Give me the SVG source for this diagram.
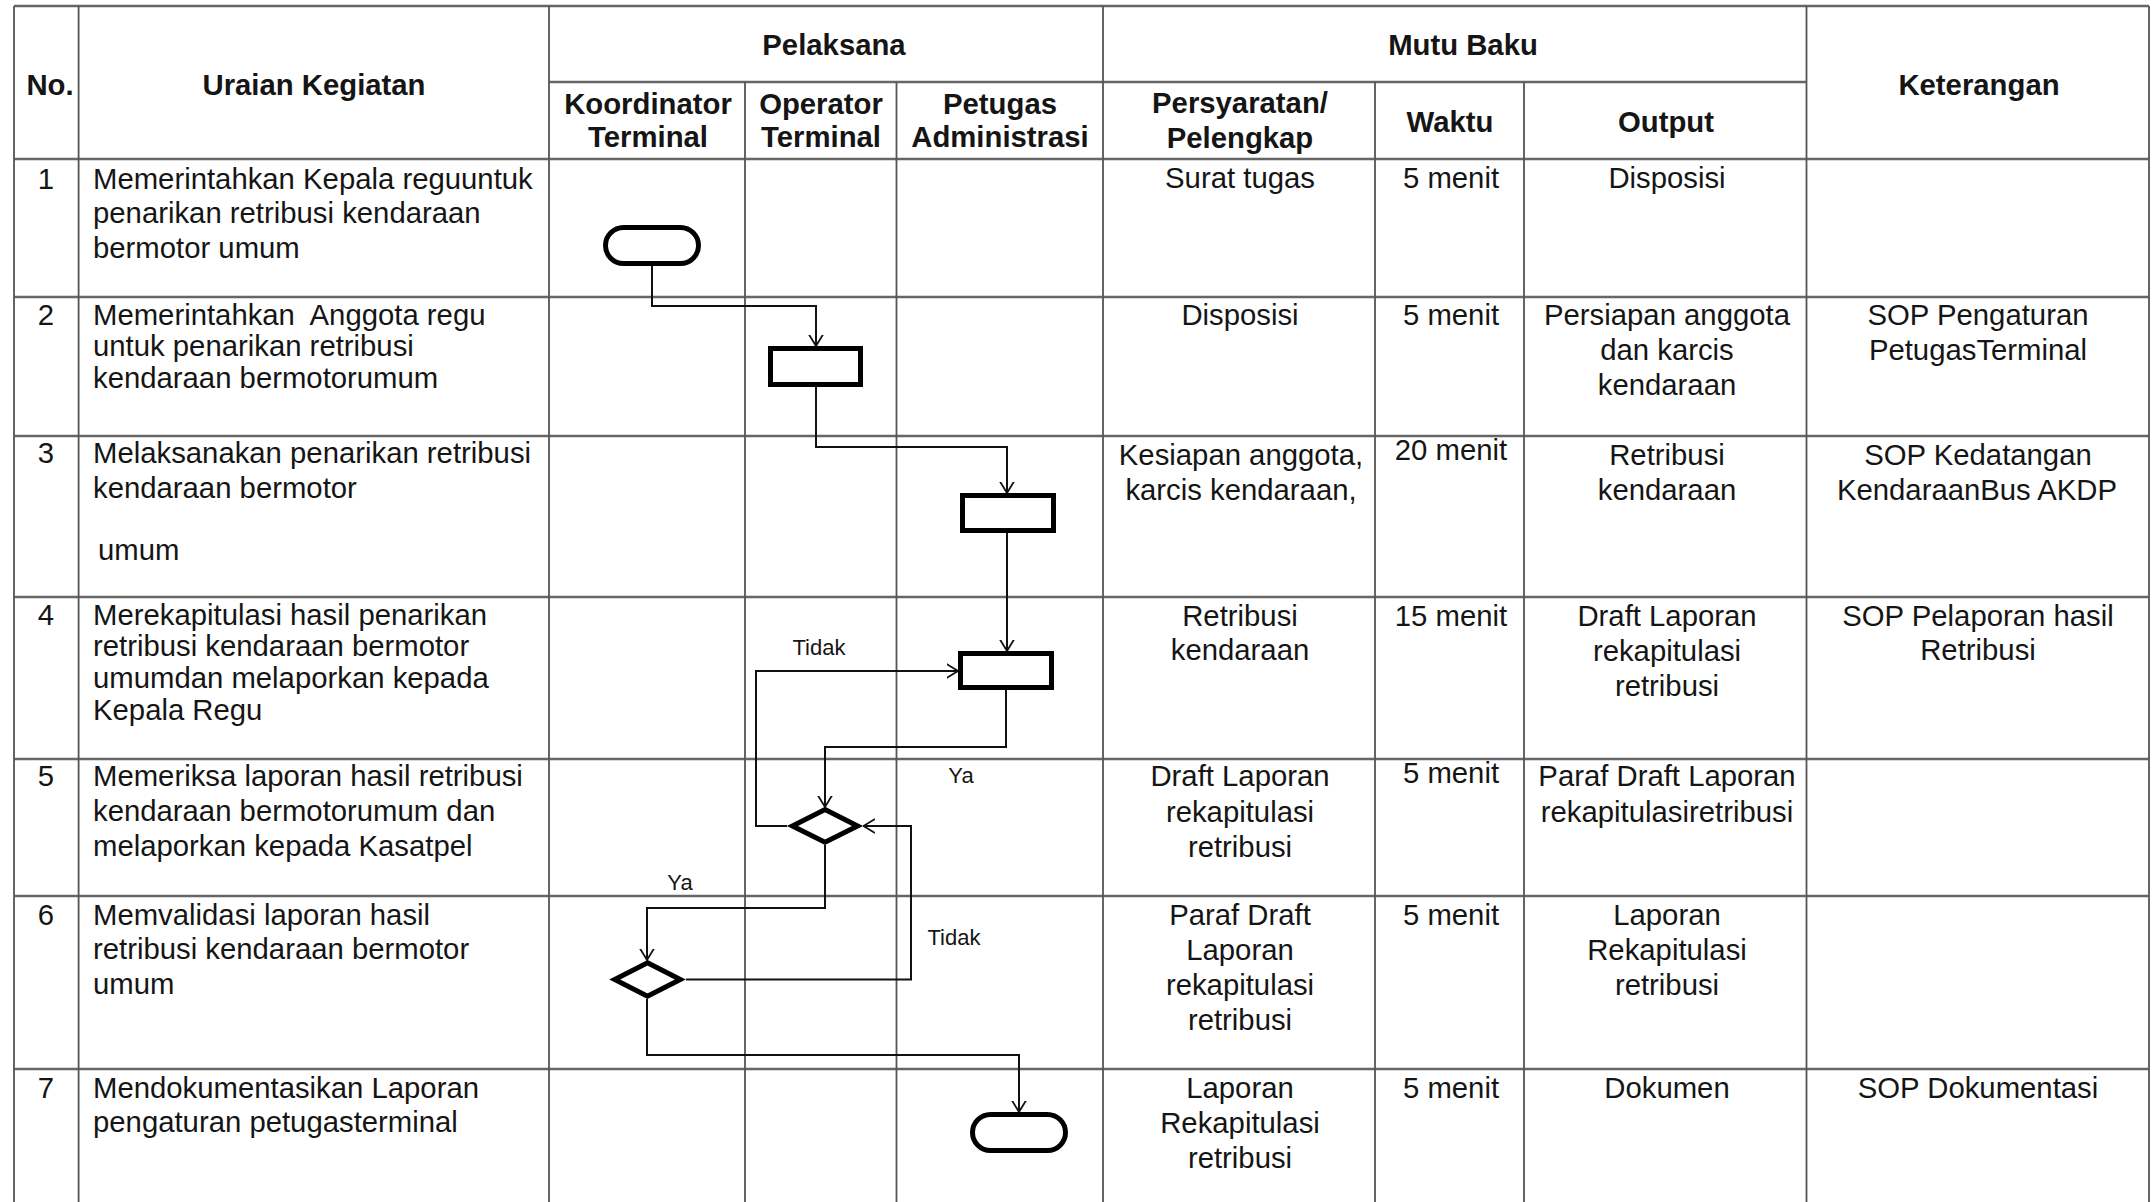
<svg xmlns="http://www.w3.org/2000/svg" width="2153" height="1202" viewBox="0 0 2153 1202">
<style>
text{font-family:"Liberation Sans",Arial,sans-serif;font-size:29.3px;fill:#151515;white-space:pre}
.h{font-weight:bold}
.c{text-anchor:middle}
.lbl{font-size:22px}
.hl{stroke:#666;stroke-width:2.5;fill:none}
.vl{stroke:#555;stroke-width:1.8;fill:none}
.shape{fill:#fff;stroke:#000;stroke-width:5}
.conn{fill:none;stroke:#111;stroke-width:2;marker-end:url(#arr)}
</style>
<defs>
<marker id="arr" viewBox="0 0 12 16" refX="11.5" refY="8" markerWidth="12" markerHeight="16" markerUnits="userSpaceOnUse" orient="auto">
<path d="M0,1 L11.5,8 L0,15" fill="none" stroke="#111" stroke-width="1.8"/>
</marker>
</defs>
<rect width="2153" height="1202" fill="#fff"/>
<g id="table">
<path class="hl" d="M14,6H2149M549,82H1806.5M14,159H2149M14,297H2149M14,436H2149M14,597H2149M14,759H2149M14,896H2149M14,1069H2149"/>
<path class="vl" d="M14,6V1202M78.6,6V1202M549,6V1202M1103,6V1202M1806.5,6V1202M2149,6V1202M745,82V1202M896.5,82V1202M1375,82V1202M1524,82V1202"/>
</g>
<g id="header">
<text class="h c" x="50" y="95">No.</text>
<text class="h c" x="314" y="95">Uraian Kegiatan</text>
<text class="h c" x="834" y="55">Pelaksana</text>
<text class="h c" x="1463" y="55">Mutu Baku</text>
<text class="h c" x="1979" y="95">Keterangan</text>
<text class="h c" x="648" y="114">Koordinator</text>
<text class="h c" x="648" y="147">Terminal</text>
<text class="h c" x="821" y="114">Operator</text>
<text class="h c" x="821" y="147">Terminal</text>
<text class="h c" x="1000" y="114">Petugas</text>
<text class="h c" x="1000" y="147">Administrasi</text>
<text class="h c" x="1240" y="113">Persyaratan/</text>
<text class="h c" x="1240" y="148">Pelengkap</text>
<text class="h c" x="1450" y="132">Waktu</text>
<text class="h c" x="1666" y="132">Output</text>
</g>
<g id="rows">
<text class="c" x="46" y="189">1</text>
<text x="93" y="189">Memerintahkan Kepala reguuntuk</text>
<text x="93" y="223">penarikan retribusi kendaraan</text>
<text x="93" y="258">bermotor umum</text>
<text class="c" x="1240" y="188">Surat tugas</text>
<text class="c" x="1451" y="188">5 menit</text>
<text class="c" x="1667" y="188">Disposisi</text>

<text class="c" x="46" y="325">2</text>
<text x="93" y="325">Memerintahkan  Anggota regu</text>
<text x="93" y="356">untuk penarikan retribusi</text>
<text x="93" y="388">kendaraan bermotorumum</text>
<text class="c" x="1240" y="325">Disposisi</text>
<text class="c" x="1451" y="325">5 menit</text>
<text class="c" x="1667" y="325">Persiapan anggota</text>
<text class="c" x="1667" y="360">dan karcis</text>
<text class="c" x="1667" y="395">kendaraan</text>
<text class="c" x="1978" y="325">SOP Pengaturan</text>
<text class="c" x="1978" y="360">PetugasTerminal</text>

<text class="c" x="46" y="463">3</text>
<text x="93" y="463">Melaksanakan penarikan retribusi</text>
<text x="93" y="498">kendaraan bermotor</text>
<text x="98" y="560">umum</text>
<text class="c" x="1241" y="465">Kesiapan anggota,</text>
<text class="c" x="1241" y="500">karcis kendaraan,</text>
<text class="c" x="1451" y="460">20 menit</text>
<text class="c" x="1667" y="465">Retribusi</text>
<text class="c" x="1667" y="500">kendaraan</text>
<text class="c" x="1978" y="465">SOP Kedatangan</text>
<text class="c" x="1977" y="500">KendaraanBus AKDP</text>

<text class="c" x="46" y="625">4</text>
<text x="93" y="625">Merekapitulasi hasil penarikan</text>
<text x="93" y="656">retribusi kendaraan bermotor</text>
<text x="93" y="688">umumdan melaporkan kepada</text>
<text x="93" y="720">Kepala Regu</text>
<text class="c" x="1240" y="626">Retribusi</text>
<text class="c" x="1240" y="660">kendaraan</text>
<text class="c" x="1451" y="626">15 menit</text>
<text class="c" x="1667" y="626">Draft Laporan</text>
<text class="c" x="1667" y="661">rekapitulasi</text>
<text class="c" x="1667" y="696">retribusi</text>
<text class="c" x="1978" y="626">SOP Pelaporan hasil</text>
<text class="c" x="1978" y="660">Retribusi</text>

<text class="c" x="46" y="786">5</text>
<text x="93" y="786">Memeriksa laporan hasil retribusi</text>
<text x="93" y="821">kendaraan bermotorumum dan</text>
<text x="93" y="856">melaporkan kepada Kasatpel</text>
<text class="c" x="1240" y="786">Draft Laporan</text>
<text class="c" x="1240" y="822">rekapitulasi</text>
<text class="c" x="1240" y="857">retribusi</text>
<text class="c" x="1451" y="783">5 menit</text>
<text class="c" x="1667" y="786">Paraf Draft Laporan</text>
<text class="c" x="1667" y="822">rekapitulasiretribusi</text>

<text class="c" x="46" y="925">6</text>
<text x="93" y="925">Memvalidasi laporan hasil</text>
<text x="93" y="959">retribusi kendaraan bermotor</text>
<text x="93" y="994">umum</text>
<text class="c" x="1240" y="925">Paraf Draft</text>
<text class="c" x="1240" y="960">Laporan</text>
<text class="c" x="1240" y="995">rekapitulasi</text>
<text class="c" x="1240" y="1030">retribusi</text>
<text class="c" x="1451" y="925">5 menit</text>
<text class="c" x="1667" y="925">Laporan</text>
<text class="c" x="1667" y="960">Rekapitulasi</text>
<text class="c" x="1667" y="995">retribusi</text>

<text class="c" x="46" y="1098">7</text>
<text x="93" y="1098">Mendokumentasikan Laporan</text>
<text x="93" y="1132">pengaturan petugasterminal</text>
<text class="c" x="1240" y="1098">Laporan</text>
<text class="c" x="1240" y="1133">Rekapitulasi</text>
<text class="c" x="1240" y="1168">retribusi</text>
<text class="c" x="1451" y="1098">5 menit</text>
<text class="c" x="1667" y="1098">Dokumen</text>
<text class="c" x="1978" y="1098">SOP Dokumentasi</text>
</g>
<g id="connectors">
<path class="conn" d="M652,266V306H816V346"/>
<path class="conn" d="M816,387V447H1007V493"/>
<path class="conn" d="M1007,533V651"/>
<path class="conn" d="M787,826H756V671H958"/>
<path class="conn" d="M1006,690V747H825V807"/>
<path class="conn" d="M686,979.5H911V826H863.5"/>
<path class="conn" d="M825,845V908H647V960"/>
<path class="conn" d="M647,999V1055H1019V1112"/>
<text class="lbl c" x="819" y="655">Tidak</text>
<text class="lbl c" x="961" y="783">Ya</text>
<text class="lbl c" x="954" y="945">Tidak</text>
<text class="lbl c" x="680" y="890">Ya</text>
</g>
<g id="start"><rect class="shape" x="605.5" y="227.5" width="93" height="36" rx="18"/></g>
<g id="step2"><rect class="shape" x="770.5" y="348.5" width="90" height="36"/></g>
<g id="step3"><rect class="shape" x="962.5" y="495.5" width="91" height="35"/></g>
<g id="step4"><rect class="shape" x="960.5" y="653.5" width="91" height="34"/></g>
<g id="decision1"><polygon class="shape" points="825,809.5 857.6,826 825,842.2 792.4,826"/></g>
<g id="decision2"><polygon class="shape" points="647.5,962.8 680.3,979.5 647.5,996.2 614.7,979.5"/></g>
<g id="end"><rect class="shape" x="972.5" y="1114.5" width="93" height="36" rx="18"/></g>
</svg>
